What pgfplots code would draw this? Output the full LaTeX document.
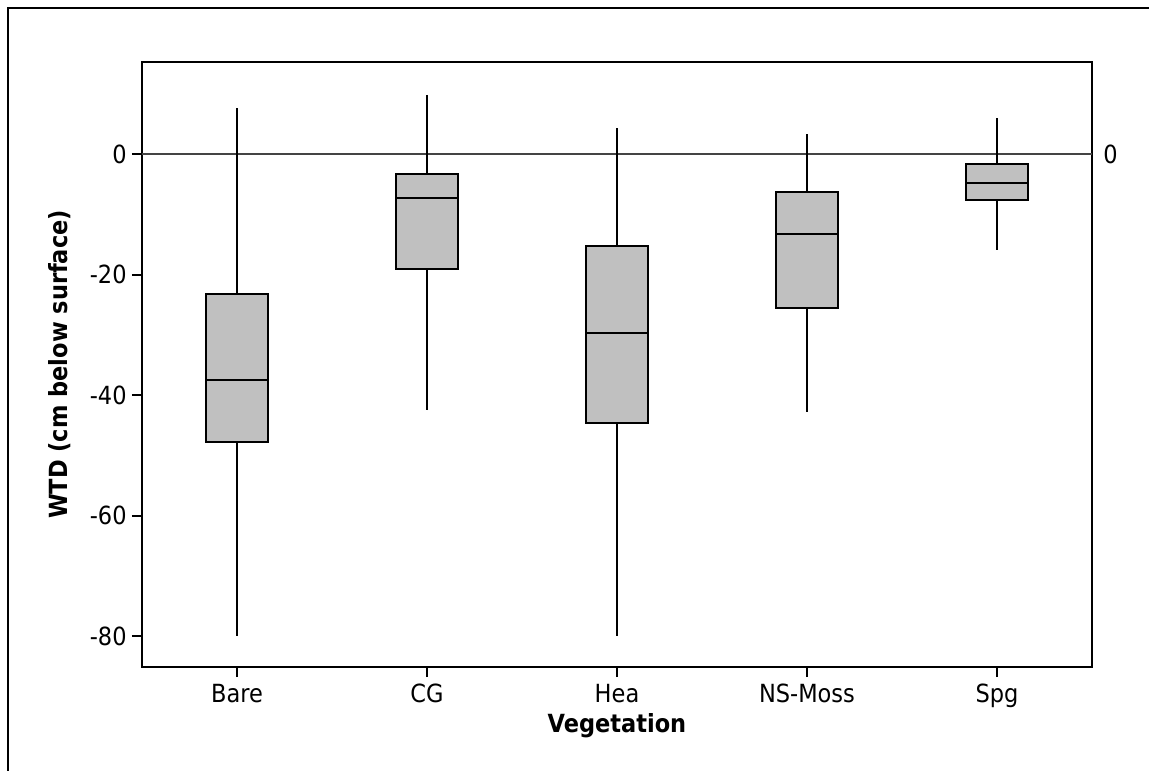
\documentclass[border=0pt]{standalone}
\usepackage{pgfplots}
\pgfplotsset{compat=1.18}
\usepgfplotslibrary{statistics}
\usepackage{fontspec}
\setmainfont{DejaVu Sans Condensed}

\definecolor{boxgray}{HTML}{C0C0C0}
\definecolor{refgray}{HTML}{444444}

\newcommand{\lblfont}{\fontsize{12.5}{15}\selectfont}

\begin{document}
\begin{tikzpicture}
\begin{axis}[
  scale only axis,
  width=475pt, height=302.5pt,
  xmin=-0.5, xmax=4.5,
  ymin=-85.1, ymax=15.3,
  clip=false,
  xtick={0,1,2,3,4},
  xticklabels={Bare,CG,Hea,NS-Moss,Spg},
  ytick={-80,-60,-40,-20,0},
  yticklabels={-80,-60,-40,-20,0},
  xtick pos=left, ytick pos=left,
  tick align=outside,
  major tick length=5pt,
  axis line style={line width=1pt},
  tick style={line width=1pt, black},
  ticklabel style={font=\lblfont},
  xticklabel style={anchor=north, inner sep=0pt, yshift=-3.5pt},
  yticklabel style={anchor=east, inner sep=0pt, xshift=-2.5pt},
  xlabel={\textbf{Vegetation}},
  ylabel={\textbf{WTD (cm below surface)}},
  label style={font=\lblfont},
  xlabel style={at={(axis description cs:0.5,-0.109)}, anchor=base},
  ylabel style={at={(axis description cs:-0.0789,0.5)}, anchor=base, rotate=0},
  boxplot/draw direction=y,
]
% reference line at zero
\addplot[refgray, line width=1pt] coordinates {(-0.5,0) (4.5,0)};

% Bare
\addplot[draw=black, fill=boxgray, line width=1pt,
  boxplot prepared={draw position=0, lower whisker=-80, lower quartile=-47.8,
    median=-37.5, upper quartile=-23.2, upper whisker=7.6,
    box extend=0.326, whisker extend=0}] coordinates {};
% CG
\addplot[draw=black, fill=boxgray, line width=1pt,
  boxplot prepared={draw position=1, lower whisker=-42.5, lower quartile=-19.0,
    median=-7.3, upper quartile=-3.3, upper whisker=9.9,
    box extend=0.326, whisker extend=0}] coordinates {};
% Hea
\addplot[draw=black, fill=boxgray, line width=1pt,
  boxplot prepared={draw position=2, lower whisker=-80, lower quartile=-44.6,
    median=-29.6, upper quartile=-15.3, upper whisker=4.3,
    box extend=0.326, whisker extend=0}] coordinates {};
% NS-Moss
\addplot[draw=black, fill=boxgray, line width=1pt,
  boxplot prepared={draw position=3, lower whisker=-42.8, lower quartile=-25.6,
    median=-13.3, upper quartile=-6.3, upper whisker=3.3,
    box extend=0.326, whisker extend=0}] coordinates {};
% Spg
\addplot[draw=black, fill=boxgray, line width=1pt,
  boxplot prepared={draw position=4, lower whisker=-15.9, lower quartile=-7.6,
    median=-4.7, upper quartile=-1.7, upper whisker=6.0,
    box extend=0.326, whisker extend=0}] coordinates {};

% label for the reference line
\node[anchor=west, inner sep=0pt, font=\lblfont, xshift=5.5pt] at (axis cs:4.5,0) {0};
\end{axis}
% outer frame
\draw[line width=1pt] (-67pt,-60pt) -- (-67pt,329.5pt) -- (510pt,329.5pt);
\pgfresetboundingbox
\useasboundingbox (-71pt,-51.5pt) rectangle (503.5pt,333.5pt);
\end{tikzpicture}
\end{document}
